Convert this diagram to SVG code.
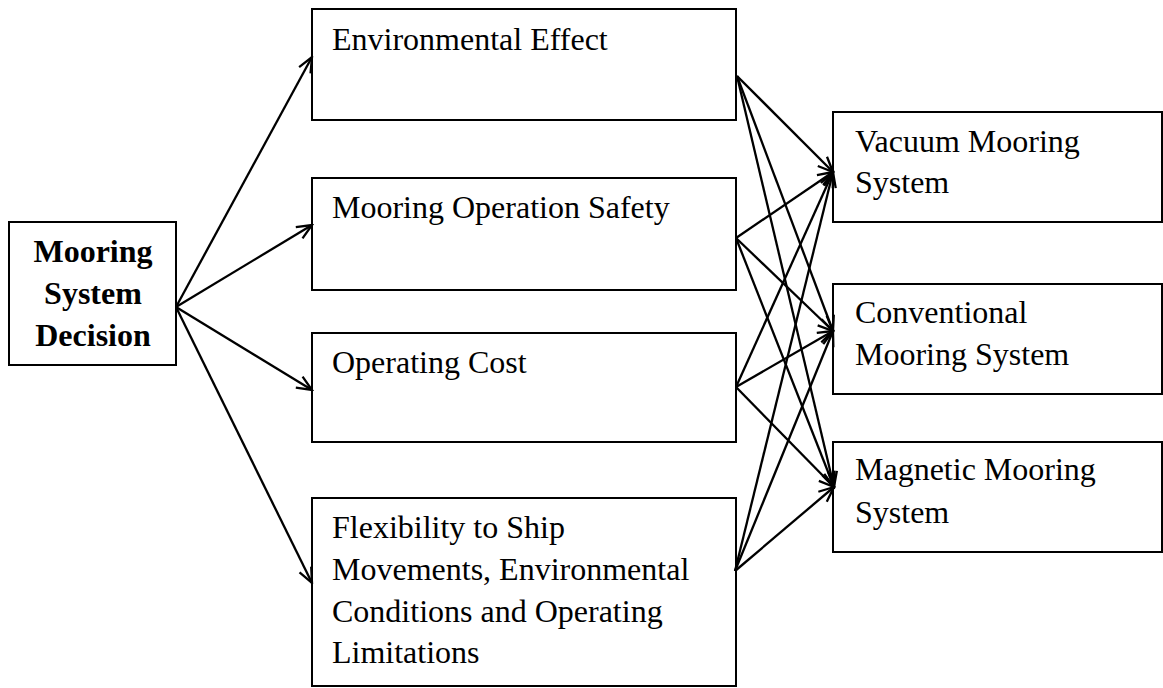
<svg xmlns="http://www.w3.org/2000/svg" width="1163" height="688" viewBox="0 0 1163 688">
<defs>
<style>
.box{fill:#fff;stroke:#000;stroke-width:2}
.t{font-family:"Liberation Serif","Times New Roman",serif;font-size:32px;fill:#000}
.b{font-family:"Liberation Serif","Times New Roman",serif;font-size:32px;font-weight:bold;fill:#000;text-anchor:middle}
.c line{stroke:#000;stroke-width:2.3;marker-end:url(#arr)}
</style>
<marker id="arr" markerWidth="19" markerHeight="17" refX="17" refY="8.5" orient="auto" markerUnits="userSpaceOnUse">
<path d="M2,2 L17,8.5 L2,15" fill="none" stroke="#000" stroke-width="2.3"/>
</marker>
</defs>
<rect width="1163" height="688" fill="#fff"/>
<g id="decision">
<rect class="box" x="9" y="222" width="167" height="143"/>
<text class="b" x="93" y="262">Mooring</text>
<text class="b" x="93" y="304">System</text>
<text class="b" x="93" y="346">Decision</text>
</g>
<g id="env">
<rect class="box" x="312" y="9" width="424" height="111"/>
<text class="t" x="332" y="50">Environmental Effect</text>
</g>
<g id="safety">
<rect class="box" x="312" y="178" width="424" height="112"/>
<text class="t" x="332" y="218">Mooring Operation Safety</text>
</g>
<g id="cost">
<rect class="box" x="312" y="333" width="424" height="109"/>
<text class="t" x="332" y="373">Operating Cost</text>
</g>
<g id="flex">
<rect class="box" x="312" y="498" width="424" height="188"/>
<text class="t" x="332" y="538">Flexibility to Ship</text>
<text class="t" x="332" y="580">Movements, Environmental</text>
<text class="t" x="332" y="622">Conditions and Operating</text>
<text class="t" x="332" y="663">Limitations</text>
</g>
<g id="vacuum">
<rect class="box" x="833" y="112" width="329" height="110"/>
<text class="t" x="855" y="152">Vacuum Mooring</text>
<text class="t" x="855" y="193">System</text>
</g>
<g id="conventional">
<rect class="box" x="833" y="284" width="329" height="110"/>
<text class="t" x="855" y="323">Conventional</text>
<text class="t" x="855" y="365">Mooring System</text>
</g>
<g id="magnetic">
<rect class="box" x="833" y="442" width="329" height="110"/>
<text class="t" x="855" y="480">Magnetic Mooring</text>
<text class="t" x="855" y="523">System</text>
</g>
<g id="connectors" class="c">
<line x1="176" y1="307" x2="312" y2="57"/>
<line x1="176" y1="307" x2="312" y2="225"/>
<line x1="176" y1="307" x2="312" y2="390"/>
<line x1="176" y1="307" x2="312" y2="583"/>
<line x1="737" y1="76" x2="833" y2="172"/>
<line x1="737" y1="76" x2="833" y2="331"/>
<line x1="737" y1="76" x2="834" y2="487"/>
<line x1="736" y1="238" x2="833" y2="172"/>
<line x1="736" y1="238" x2="833" y2="331"/>
<line x1="736" y1="238" x2="834" y2="487"/>
<line x1="736" y1="387" x2="833" y2="172"/>
<line x1="736" y1="387" x2="833" y2="331"/>
<line x1="736" y1="387" x2="834" y2="487"/>
<line x1="735" y1="571" x2="833" y2="172"/>
<line x1="735" y1="571" x2="833" y2="331"/>
<line x1="735" y1="571" x2="834" y2="487"/>
</g>
</svg>
